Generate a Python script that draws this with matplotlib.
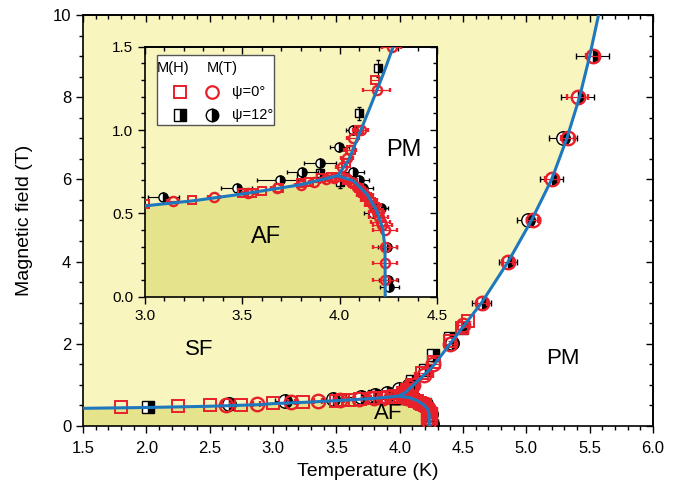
import numpy as np
import matplotlib
matplotlib.use("Agg")
import matplotlib.pyplot as plt
from matplotlib.ticker import MultipleLocator
from matplotlib.patches import Rectangle

plt.rcParams['font.family'] = ['Liberation Sans', 'DejaVu Sans']

# phase boundary lines
sf_T = [1.5, 2.0, 2.5, 2.9, 3.0, 3.25, 3.5, 3.8, 3.99]
sf_H = [0.43, 0.45, 0.48, 0.52, 0.545, 0.576, 0.616, 0.672, 0.726]
afpm_T = [3.99, 4.07, 4.14, 4.19, 4.22, 4.233, 4.234]
afpm_H = [0.726, 0.696, 0.616, 0.516, 0.416, 0.296, 0.0]
pm_T = [3.99, 4.044, 4.087, 4.156, 4.224, 4.275, 4.42, 4.647, 4.857, 5.04, 5.2, 5.32, 5.42, 5.50, 5.57]
pm_H = [0.726, 0.816, 0.936, 1.136, 1.336, 1.5, 2.09, 3.0, 4.0, 5.0, 6.0, 7.0, 8.0, 9.0, 10.0]

# M(H), psi = 0 (red open squares)
sq0_T = [1.80, 2.25, 2.50, 2.75, 3.00, 3.24, 3.50, 3.55, 3.60, 3.69, 3.80, 3.845, 3.905, 3.957,
         4.00, 4.04, 4.07, 4.10, 4.12, 4.14, 4.16, 4.18, 4.20, 4.03, 4.06, 4.10, 4.18, 4.27, 4.40, 4.49, 4.54]
sq0_H = [0.47, 0.48, 0.50, 0.51, 0.556, 0.58, 0.62, 0.625, 0.635, 0.655, 0.68, 0.69, 0.71, 0.72,
         0.72, 0.70, 0.68, 0.65, 0.62, 0.60, 0.57, 0.54, 0.50, 0.80, 0.88, 1.00, 1.30, 1.56, 2.07, 2.39, 2.55]

# M(T), psi = 0 (red open circles)
ci0_T = [2.63, 2.87, 3.145, 3.354, 3.53, 3.676, 3.80, 3.87, 3.93, 3.97,
         4.03, 4.06, 4.09, 4.11, 4.13, 4.15, 4.17, 4.19, 4.20, 4.21, 4.22, 4.233, 4.233, 4.233, 4.233,
         4.01, 4.036, 4.053, 4.07, 4.108, 4.19, 4.267, 4.40, 4.50,
         4.647, 4.857, 5.049, 5.199, 5.326, 5.404, 5.523]
ci0_H = [0.52, 0.53, 0.576, 0.60, 0.624, 0.65, 0.672, 0.69, 0.705, 0.715,
         0.71, 0.69, 0.66, 0.64, 0.61, 0.58, 0.55, 0.51, 0.48, 0.45, 0.43, 0.40, 0.30, 0.20, 0.10,
         0.78, 0.83, 0.88, 0.95, 1.00, 1.24, 1.50, 2.00, 2.45,
         3.0, 4.0, 5.0, 6.0, 7.0, 8.0, 9.0]
ci0_err = [0.03, 0.03, 0.03, 0.03, 0.03, 0.03, 0.03, 0.03, 0.03, 0.03,
           0.03, 0.03, 0.03, 0.03, 0.04, 0.04, 0.04, 0.04, 0.05, 0.05, 0.05, 0.06, 0.06, 0.06, 0.06,
           0.03, 0.03, 0.03, 0.03, 0.04, 0.07, 0.05, 0.04, 0.04,
           0.04, 0.04, 0.04, 0.05, 0.05, 0.08, 0.05]

# M(H), psi = 12 (black half-filled squares)
sq12_T = [2.01, 3.80, 3.90, 4.00, 4.20, 4.10, 4.198, 4.265, 4.40, 4.49]
sq12_H = [0.47, 0.72, 0.74, 0.69, 0.53, 1.10, 1.37, 1.73, 2.13, 2.39]
sq12_herr = [0.0, 0.0, 0.0, 0.04, 0.0, 0.04, 0.05, 0.0, 0.0, 0.0]

# M(T), psi = 12 (black half-filled circles)
ci12_T = [2.65, 3.094, 3.471, 3.693, 3.808, 3.899, 3.998, 4.07,
          4.067, 4.10, 4.12, 4.173, 4.21, 4.245, 4.25, 4.255,
          4.41, 4.647, 4.857, 5.015, 5.199, 5.29, 5.404, 5.523]
ci12_H = [0.53, 0.60, 0.65, 0.70, 0.75, 0.80, 0.90, 1.00,
          0.75, 0.70, 0.65, 0.50, 0.53, 0.30, 0.10, 0.06,
          2.01, 3.0, 4.0, 5.0, 6.0, 7.0, 8.0, 9.0]
ci12_err = [0.05, 0.08, 0.08, 0.12, 0.08, 0.08, 0.05, 0.04,
            0.06, 0.05, 0.05, 0.05, 0.04, 0.05, 0.05, 0.05,
            0.05, 0.075, 0.07, 0.09, 0.09, 0.11, 0.13, 0.13]

yellow = '#F8F5BF'
af_col = '#E5E48C'
blue = '#1E78BE'
red = '#E8202A'


def draw_phase(ax, ms_scale):
    x0 = ax.get_xlim()[0]
    y1 = ax.get_ylim()[1]
    # SF/AF region (everything left of the PM boundary)
    px = [x0] + afpm_T[::-1] + pm_T[1:] + [x0]
    py = [0.0] + afpm_H[::-1] + pm_H[1:] + [max(y1, pm_H[-1])]
    ax.fill(px, py, color=yellow, lw=0, zorder=0)
    # AF region
    ax.fill(sf_T + afpm_T[1:] + [x0], sf_H + afpm_H[1:] + [0.0], color=af_col, lw=0, zorder=0.5)

    ms = 9 * ms_scale
    ax.errorbar(sq0_T, sq0_H, xerr=0.02, fmt='s', ms=ms, mfc='none', mec=red, mew=1.4,
                ecolor=red, elinewidth=0.8, capsize=0, zorder=3)
    ax.errorbar(ci0_T, ci0_H, xerr=ci0_err, fmt='o', ms=ms * 1.08, mfc='none', mec=red, mew=1.7,
                ecolor=red, elinewidth=0.9, capsize=2.5 * ms_scale, zorder=4)
    ax.errorbar(sq12_T, sq12_H, yerr=sq12_herr, fmt='none', ecolor='k', elinewidth=0.8,
                capsize=2.5 * ms_scale, zorder=2)
    ax.plot(sq12_T, sq12_H, 's', ms=ms * 0.9, fillstyle='right', mfc='k', mfcalt='white',
            mec='k', mew=1.0, zorder=2)
    ax.errorbar(ci12_T, ci12_H, xerr=ci12_err, fmt='none', ecolor='k', elinewidth=0.8,
                capsize=2.5 * ms_scale, zorder=2)
    ax.plot(ci12_T, ci12_H, 'o', ms=ms * 1.08, fillstyle='right', mfc='k', mfcalt='white',
            mec='k', mew=1.0, zorder=2)

    ax.plot(sf_T, sf_H, color=blue, lw=2.2, zorder=5, solid_capstyle='butt')
    ax.plot(afpm_T, afpm_H, color=blue, lw=2.2, zorder=5, solid_capstyle='butt')
    ax.plot(pm_T, pm_H, color=blue, lw=2.2, zorder=5, solid_capstyle='butt')


def style_ticks(ax, size, xmaj, xmin, ymaj, ymin):
    # left/bottom ticks point out, top/right ticks point in
    ax.xaxis.set_major_locator(MultipleLocator(xmaj))
    ax.xaxis.set_minor_locator(MultipleLocator(xmin))
    ax.yaxis.set_major_locator(MultipleLocator(ymaj))
    ax.yaxis.set_minor_locator(MultipleLocator(ymin))
    ax.tick_params(which='both', direction='out', width=1.0, labelsize=size)
    ax.tick_params(which='major', length=5)
    ax.tick_params(which='minor', length=3)
    top = ax.secondary_xaxis('top')
    right = ax.secondary_yaxis('right')
    top.xaxis.set_major_locator(MultipleLocator(xmaj))
    top.xaxis.set_minor_locator(MultipleLocator(xmin))
    right.yaxis.set_major_locator(MultipleLocator(ymaj))
    right.yaxis.set_minor_locator(MultipleLocator(ymin))
    for sec in (top, right):
        sec.tick_params(which='both', direction='in', width=1.0, labeltop=False,
                        labelright=False, labelbottom=False, labelleft=False)
        sec.tick_params(which='major', length=5)
        sec.tick_params(which='minor', length=3)
    for s in ax.spines.values():
        s.set_linewidth(1.2)
    top.spines['top'].set_linewidth(1.2)
    right.spines['right'].set_linewidth(1.2)


fig = plt.figure(figsize=(6.81, 4.91), dpi=100)
ax = fig.add_axes([0.1219, 0.1324, 0.8370, 0.8371])
ax.set_xlim(1.5, 6.0)
ax.set_ylim(0, 10)
draw_phase(ax, 1.0)
style_ticks(ax, 12, 0.5, 0.1, 2, 0.5)
ax.xaxis.set_major_formatter(matplotlib.ticker.FormatStrFormatter('%.1f'))
ax.tick_params(axis='x', pad=6)
ax.set_xlabel('Temperature (K)', fontsize=14, labelpad=5)
ax.set_ylabel('Magnetic field (T)', fontsize=14, labelpad=14)
ax.text(2.42, 1.85, 'SF', fontsize=16, ha='center', va='center')
ax.text(5.29, 1.65, 'PM', fontsize=16, ha='center', va='center')
ax.text(3.91, 0.31, 'AF', fontsize=16, ha='center', va='center', zorder=6)

ins = fig.add_axes([0.2129, 0.3957, 0.4288, 0.5092])
ins.set_facecolor('white')
ins.set_xlim(3.0, 4.5)
ins.set_ylim(0, 1.5)
draw_phase(ins, 0.68)
style_ticks(ins, 11, 0.5, 0.1, 0.5, 0.1)
ins.xaxis.set_major_formatter(matplotlib.ticker.FormatStrFormatter('%.1f'))
ins.yaxis.set_major_formatter(matplotlib.ticker.FormatStrFormatter('%.1f'))
ins.text(4.33, 0.88, 'PM', fontsize=17, ha='center', va='center')
ins.text(3.62, 0.36, 'AF', fontsize=17, ha='center', va='center', zorder=6)

# legend box drawn by hand
tr = ins.transAxes
ins.add_patch(Rectangle((0.04, 0.687), 0.402, 0.28, transform=tr, fc='white', ec='#555555',
                        lw=1.0, zorder=7))
ins.text(0.097, 0.914, 'M(H)', transform=tr, fontsize=10.5, ha='center', va='center', zorder=8)
ins.text(0.263, 0.914, 'M(T)', transform=tr, fontsize=10.5, ha='center', va='center', zorder=8)
ins.plot([0.12], [0.82], 's', transform=tr, ms=8, mfc='none', mec=red, mew=1.4, zorder=8, clip_on=False)
ins.plot([0.228], [0.82], 'o', transform=tr, ms=9, mfc='none', mec=red, mew=1.6, zorder=8, clip_on=False)
ins.plot([0.12], [0.727], 's', transform=tr, ms=8, fillstyle='right', mfc='k', mfcalt='white',
         mec='k', mew=1.0, zorder=8, clip_on=False)
ins.plot([0.228], [0.727], 'o', transform=tr, ms=9, fillstyle='right', mfc='k', mfcalt='white',
         mec='k', mew=1.0, zorder=8, clip_on=False)
ins.text(0.297, 0.82, 'ψ=0°', transform=tr, fontsize=10.5, ha='left', va='center', zorder=8)
ins.text(0.297, 0.727, 'ψ=12°', transform=tr, fontsize=10.5, ha='left', va='center', zorder=8)

fig.savefig('out.png', dpi=100)
